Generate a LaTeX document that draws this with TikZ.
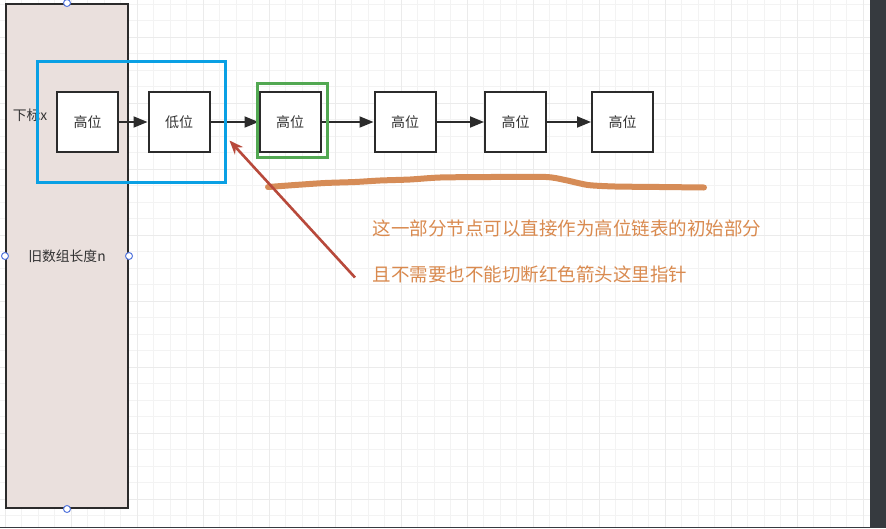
\documentclass[tikz,border=0pt]{standalone}
\usepackage{fontspec}
\setmainfont{Noto Sans CJK SC}
\usetikzlibrary{arrows.meta}
\definecolor{gridminor}{HTML}{F3F3F3}
\definecolor{gridmajor}{HTML}{EBEBEB}
\definecolor{boxline}{HTML}{2B2B2B}
\definecolor{arrfill}{HTML}{EAE0DD}
\definecolor{selblue}{HTML}{0AA0E4}
\definecolor{selgreen}{HTML}{52A852}
\definecolor{handleblue}{HTML}{5577DD}
\definecolor{notecol}{HTML}{D98A4F}
\definecolor{squigcol}{HTML}{D68C57}
\definecolor{redarr}{HTML}{B8493B}
\definecolor{darkbar}{HTML}{363A3F}
\definecolor{textgray}{HTML}{333333}
\tikzset{
  gminor/.style={draw=gridminor, line width=1pt},
  gmajor/.style={draw=gridmajor, line width=1pt},
  cell/.style={draw=boxline, fill=white, line width=2pt, minimum width=61pt, minimum height=60pt, inner sep=0pt, text=textgray, font=\fontsize{14}{16}\selectfont},
  arraybox/.style={draw=boxline, fill=arrfill, line width=2pt, minimum width=122pt, minimum height=504pt, inner sep=0pt, text=textgray, font=\fontsize{13.8}{16}\selectfont},
  handle/.style={circle, draw=handleblue, fill=white, line width=1pt, minimum size=7pt, inner sep=0pt},
  link/.style={draw=boxline, line width=1.8pt, -{Triangle[length=14pt,width=11pt]}},
  selbox/.style={draw=selblue, line width=3pt, minimum width=188pt, minimum height=121.7pt, inner sep=0pt},
  grbox/.style={draw=selgreen, line width=2.6pt, minimum width=70pt, minimum height=74pt, inner sep=0pt},
  squig/.style={draw=squigcol, line width=6pt, line cap=round, line join=round},
  redline/.style={draw=redarr, line width=2.6pt, -{Stealth[length=14pt,width=11pt]}},
  note/.style={text=notecol, font=\fontsize{18.5}{22}\selectfont, anchor=west, inner sep=0pt},
  plain/.style={text=textgray, font=\fontsize{13.8}{16}\selectfont, inner sep=0pt}
}
\begin{document}
\begin{tikzpicture}[x=1pt,y=-1pt]
\useasboundingbox (0,0) rectangle (886,528);
\fill[white] (0,0) rectangle (886,528);
% grid
\foreach \i in {0,...,52} { \draw[gminor] ({5.3+16.5*\i},0) -- ({5.3+16.5*\i},528); }
\foreach \j in {0,...,31} { \draw[gminor] (0,{4+16.5*\j}) -- (870,{4+16.5*\j}); }
\foreach \i in {0,...,13} { \draw[gmajor] ({5.3+66*\i},0) -- ({5.3+66*\i},528); }
\foreach \j in {0,...,7} { \draw[gmajor] (0,{37+66*\j}) -- (870,{37+66*\j}); }
% right bar and bottom line
\fill[darkbar] (870,0) rectangle (886,528);
\draw[darkbar, line width=1.2pt] (0,527.4) -- (870,527.4);
% old array
\node[arraybox] (arr) at (67,256) {旧数组长度n};
\node[handle] (hn) at (arr.north) {};
\node[handle] (hw) at (arr.west) {};
\node[handle] (he) at (arr.east) {};
\node[handle] (hs) at (arr.south) {};
\node[plain] (idx) at (30,115) {下标x};
% list nodes
\node[cell] (b1) at (87.5,122) {高位};
\node[cell] (b2) at (179,122) {低位};
\node[cell] (b3) at (290,122) {高位};
\node[cell] (b4) at (405,122) {高位};
\node[cell] (b5) at (515.5,122) {高位};
\node[cell] (b6) at (622.5,122) {高位};
\draw[link] (b1) -- (b2);
\draw[link] (b2) -- (b3);
\draw[link] (b3) -- (b4);
\draw[link] (b4) -- (b5);
\draw[link] (b5) -- (b6);
% selection boxes
\node[selbox] (sel) at (131.7,121.85) {};
\node[grbox] (grn) at (292.3,120.3) {};
% orange underline
\draw[squig] plot[smooth, tension=0.4] coordinates {(268,187) (295,185) (325,183) (355,182) (380,180.5) (410,179.5) (440,177.5) (490,177) (546,177) (565,180) (588,185) (615,186.5) (660,187) (704,187.5)};
% notes
\node[note] (t1) at (372.5,228) {这一部分节点可以直接作为高位链表的初始部分};
\node[note] (t2) at (372.5,274) {且不需要也不能切断红色箭头这里指针};
% red arrow
\coordinate (rtail) at (355,277.5);
\coordinate (rtip) at (229.5,140.5);
\draw[redline] (rtail) -- (rtip);
\end{tikzpicture}
\end{document}
